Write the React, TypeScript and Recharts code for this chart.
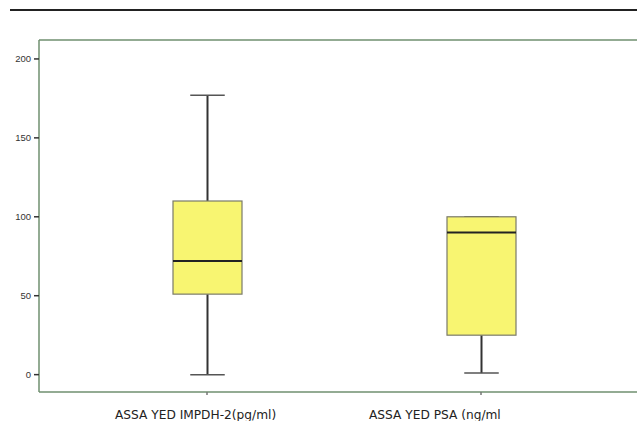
import React from 'react';
import { ComposedChart, Bar, XAxis, YAxis, ReferenceLine } from 'recharts';

const categories = ['ASSA YED IMPDH-2(pg/ml)', 'ASSA YED PSA (ng/ml'];
const mins = [0, 1];
const q1s = [51, 25];
const medians = [72, 90];
const q3s = [110, 100];
const maxs = [177, 100];
const yTicks = [0, 50, 100, 150, 200];
const yDomain = [-11, 212];

const data = categories.map((name, i) => ({
  name,
  box: [q1s[i], q3s[i]],
  min: mins[i],
  q1: q1s[i],
  median: medians[i],
  q3: q3s[i],
  max: maxs[i],
}));

const FRAME = '#6f8f6f';

// draws one box + whiskers, using the bar's own q1..q3 pixel span as the scale
function BoxShape(props: any) {
  const { x, y, width, height, payload } = props;
  const top = Math.min(y, y + height);
  const h = Math.abs(height);
  const perUnit = h / (payload.q3 - payload.q1);
  const yOf = (v: number) => top + h - (v - payload.q1) * perUnit;
  const cx = x + width / 2;
  const cap = width / 4;
  return (
    <g>
      <line x1={cx} x2={cx} y1={yOf(payload.max)} y2={yOf(payload.q3)} stroke="#333" strokeWidth={2} />
      <line x1={cx} x2={cx} y1={yOf(payload.q1)} y2={yOf(payload.min)} stroke="#333" strokeWidth={2} />
      <line x1={cx - cap} x2={cx + cap} y1={yOf(payload.max)} y2={yOf(payload.max)} stroke="#555" strokeWidth={1.5} />
      <line x1={cx - cap} x2={cx + cap} y1={yOf(payload.min)} y2={yOf(payload.min)} stroke="#555" strokeWidth={1.5} />
      <rect x={x} y={top} width={width} height={h} fill="#f8f571" stroke="#7a7a6a" strokeWidth={1.2} />
      <line x1={x} x2={x + width} y1={yOf(payload.median)} y2={yOf(payload.median)} stroke="#222" strokeWidth={2} />
    </g>
  );
}

const labelShift = [-92, -112];

function CatTick(props: any) {
  const { x, y, payload, index } = props;
  return (
    <text
      x={x + labelShift[index]}
      y={y + 21.5}
      textAnchor="start"
      fontSize={12.2}
      fill="#222"
      fontFamily="'DejaVu Sans', sans-serif"
    >
      {payload.value}
    </text>
  );
}

export default function App() {
  return (
    <div style={{ position: 'fixed', left: 0, top: 0, width: 637, height: 421, overflow: 'hidden', background: '#fff' }}>
      <div style={{ position: 'absolute', left: 10, top: 9, width: 640, height: 2, background: '#222' }} />
      <div style={{ position: 'absolute', left: 0, top: 0, width: 700, height: 421 }}>
        <ComposedChart
          width={700}
          height={421}
          data={data}
          margin={{ top: 40, right: 0, bottom: 0, left: 0 }}
        >
          <XAxis
            dataKey="name"
            height={29}
            padding={{ left: 31, right: 82 }}
            stroke={FRAME}
            strokeWidth={1.5}
            tickSize={3}
            tickLine={{ stroke: '#777' }}
            tick={<CatTick />}
            interval={0}
          />
          <YAxis
            width={39}
            domain={yDomain}
            ticks={yTicks}
            allowDataOverflow
            stroke={FRAME}
            strokeWidth={1.5}
            tickSize={5}
            tickLine={{ stroke: '#333' }}
            tickMargin={3}
            tick={{ fontSize: 9.5, fill: '#333', fontFamily: "'Liberation Sans', Arial, sans-serif" }}
          />
          <ReferenceLine y={yDomain[1]} stroke={FRAME} strokeWidth={1.5} />
          <Bar dataKey="box" barSize={69} shape={<BoxShape />} isAnimationActive={false} />
        </ComposedChart>
      </div>
    </div>
  );
}
